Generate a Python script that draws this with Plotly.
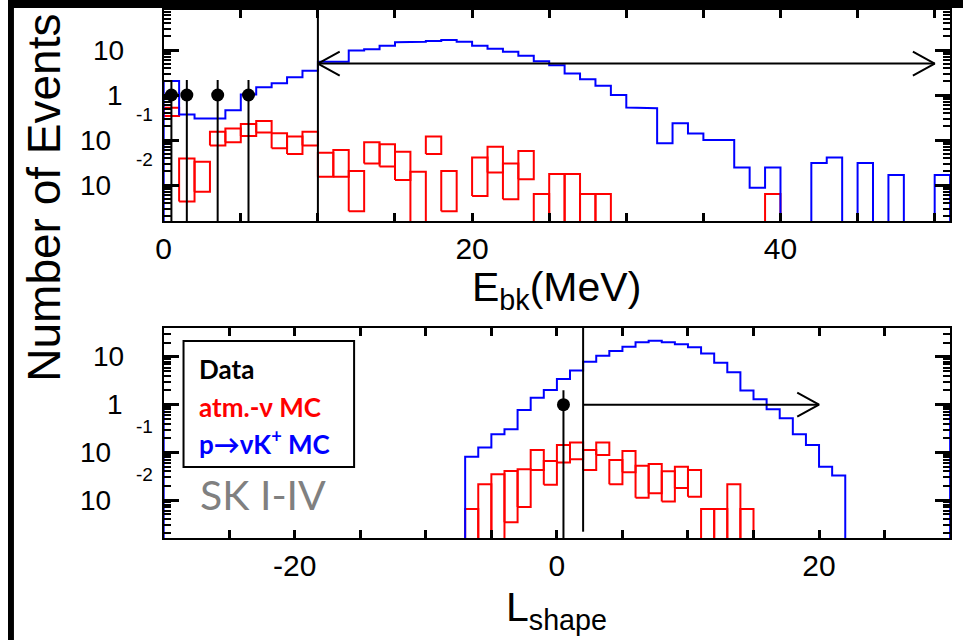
import numpy as np
import plotly.graph_objects as go

# ---------------- data: top panel (E_bk, MeV) ----------------
ebk_edges = list(range(0, 52))          # 1 MeV bins, 0..51
ebk_signal = [2.05, 0.37, 0.30, 0.30, 0.46, 1.03, 1.48, 1.82, 2.47, 3.47,
              5.5, 5.5, 9.7, 10.4, 12.5, 14.8, 15.2, 15.8, 16.7, 15.3,
              12.5, 10.7, 9.2, 7.5, 5.6, 4.6, 3.0, 2.23, 1.61, 1.0,
              0.53, 0.51, 0.085, 0.235, 0.14, 0.10, 0.10, 0.0245, 0.0087, 0.0245,
              0, 0, 0.031, 0.041, 0, 0.031, 0, 0.0166, 0, 0, 0.0166]
ebk_atm_hi = [0.52, 0.039, 0.033, 0.153, 0.18, 0.227, 0.264, 0.141, 0.119, 0.153,
              0.052, 0.060, 0.0205, 0.089, 0.080, 0.055, 0.0198, 0.119, 0.0205, None,
              0.041, 0.071, 0.030, 0.057, 0.0063, 0.0176, 0.0176, 0.0063, 0.0063, None,
              None, None, None, None, None, None, None, None, None, 0.0063,
              None, None, None, None, None, None, None, None, None, None, None]
ebk_atm_lo = [0.34, 0.0043, 0.0071, 0.075, 0.089, 0.123, 0.146, 0.0655, 0.049, 0.075,
              0.0153, 0.0153, 0.0026, 0.030, 0.0257, 0.0129, 0, 0.049, 0.0026, None,
              0.0057, 0.019, 0.0048, 0.0134, 0, 0, 0, 0, 0, None,
              None, None, None, None, None, None, None, None, None, 0,
              None, None, None, None, None, None, None, None, None, None, None]
ebk_data_x = [0.5, 1.5, 3.5, 5.5]
ebk_data_y = [1, 1, 1, 1]
ebk_data_hi = [2.15, 2.15, 2.15, 2.15]
ebk_cut = 10
ebk_arrow = (10, 50, 5.0)

# ---------------- data: bottom panel (L_shape) ----------------
ls_edges = list(range(-31, 32))         # 1-unit bins, -31..31
ls_signal = ([1.0] + [0] * 23 +
             [0.081, 0.126, 0.24, 0.305, 0.77, 1.40, 2.03, 3.46, 5.2, 7.9,
              10.6, 13.4, 16.4, 20.3, 22.0, 20.3, 18.5, 16.0, 11.9, 7.6,
              4.8, 1.97, 1.30, 0.80, 0.52, 0.24, 0.143, 0.050, 0.0325] +
             [0] * 8 + [1.0])
ls_atm_hi = ([None] * 24 +
             [0.0065, 0.0214, 0.0346, 0.0407, 0.0443, 0.112, 0.066, 0.143, 0.160, 0.112,
              0.160, 0.069, 0.107, 0.052, 0.057, 0.040, 0.050, 0.0427, 0.0065, 0.0065,
              0.0214, 0.0065] + [None] * 16)
ls_atm_lo = ([None] * 24 +
             [0, 0, 0, 0.0034, 0.0071, 0.0427, 0.0209, 0.061, 0.0716, 0.0427,
              0.088, 0.0214, 0.038, 0.0112, 0.0138, 0.0093, 0.0178, 0.0117, 0, 0,
              0, 0] + [None] * 16)
ls_data_x = [0.5]
ls_data_y = [1]
ls_data_hi = [2.0]
ls_cut = 2
ls_arrow = (2, 20, 1.0)

# tick positions
ebk_ticklabels = [0, 20, 40]
ls_ticklabels = [-20, 0, 20]
decades = [0.01, 0.1, 1, 10]
minor_log = [m * 10.0 ** k for k in range(-3, 2) for m in range(2, 10)]

# ---------------- layout geometry (pixels) ----------------
W, H = 963, 640
PX0, PX1 = 157, 950
TOP_Y0, TOP_Y1 = 10, 221
BOT_Y0, BOT_Y1 = 328, 538
TOP_YR = [-2.8, 1.889]
BOT_YR = [-2.797, 1.608]
TOP_XR = [0, 51]
BOT_XR = [-30, 30]
FLOOR = 1e-4
BLUE, RED = "#0000ff", "#ff0000"
FONT = "Liberation Sans"


def step_xy(edges, vals):
    xs, ys = [edges[0]], [FLOOR]
    for i, v in enumerate(vals):
        v = v if v > 0 else FLOOR
        xs += [edges[i], edges[i + 1]]
        ys += [v, v]
    xs.append(edges[-1]); ys.append(FLOOR)
    return xs, ys


def boxes_xy(edges, hi, lo):
    xs, ys = [], []
    for i, (h, l) in enumerate(zip(hi, lo)):
        if h is None:
            continue
        l = l if l > 0 else FLOOR
        a, b = edges[i], edges[i + 1]
        xs += [a, a, b, b, a, None]
        ys += [l, h, h, l, l, None]
    return xs, ys


def err_xy(xv, hi):
    xs, ys = [], []
    for x, h in zip(xv, hi):
        xs += [x, x, None]
        ys += [FLOOR, h, None]
    return xs, ys


def chevron(xtip, ytip, direction, xr, yr, y0, y1):
    xpp = (PX1 - PX0) / (xr[1] - xr[0])
    ypp = (y1 - y0) / (yr[1] - yr[0])
    f = 10 ** (12 / ypp)
    xb = xtip - direction * 22 / xpp
    return [xb, xtip, xb], [ytip * f, ytip, ytip / f]


fig = go.Figure()


def line_trace(x, y, color, xa, ya, width=2):
    return go.Scatter(x=x, y=y, mode="lines", line=dict(color=color, width=width),
                      xaxis=xa, yaxis=ya, hoverinfo="skip")


def add_panel(xa, ya, edges, sig, hi, lo, dx, dy, dhi, cut, arrow, xr, yr, y0, y1, both):
    bx, by = boxes_xy(edges, hi, lo)
    fig.add_trace(line_trace(bx, by, RED, xa, ya))
    sx, sy = step_xy(edges, sig)
    fig.add_trace(line_trace(sx, sy, BLUE, xa, ya))
    ex, ey = err_xy(dx, dhi)
    fig.add_trace(line_trace(ex, ey, "black", xa, ya))
    fig.add_trace(go.Scatter(x=dx, y=dy, mode="markers", marker=dict(color="black", size=13),
                             xaxis=xa, yaxis=ya, hoverinfo="skip"))
    ytop = 10 ** yr[1]
    ybot = 10 ** (yr[0] + 0.03 * (yr[1] - yr[0]))
    fig.add_trace(line_trace([cut, cut], [ytop, ybot], "black", xa, ya))
    a0, a1, ay = arrow
    fig.add_trace(line_trace([a0, a1], [ay, ay], "black", xa, ya))
    cx, cy = chevron(a1, ay, 1, xr, yr, y0, y1)
    fig.add_trace(line_trace(cx, cy, "black", xa, ya))
    if both:
        cx, cy = chevron(a0, ay, -1, xr, yr, y0, y1)
        fig.add_trace(line_trace(cx, cy, "black", xa, ya))


add_panel("x", "y", ebk_edges, ebk_signal, ebk_atm_hi, ebk_atm_lo,
          ebk_data_x, ebk_data_y, ebk_data_hi, ebk_cut, ebk_arrow,
          TOP_XR, TOP_YR, TOP_Y0, TOP_Y1, True)
add_panel("x2", "y2", ls_edges, ls_signal, ls_atm_hi, ls_atm_lo,
          ls_data_x, ls_data_y, ls_data_hi, ls_cut, ls_arrow,
          BOT_XR, BOT_YR, BOT_Y0, BOT_Y1, False)

xcommon = dict(showline=True, linecolor="black", linewidth=2, mirror="ticks",
               ticks="inside", ticklen=8, tickwidth=2.5, tickcolor="black",
               showgrid=False, zeroline=False,
               tickfont=dict(family=FONT, size=30, color="black"),
               minor=dict(ticks="inside", ticklen=8, tickwidth=2.5, tickcolor="black",
                          dtick=5, tick0=0, showgrid=False))
ycommon = dict(type="log", showline=True, linecolor="black", linewidth=2, mirror="ticks",
               ticks="inside", ticklen=15, tickwidth=2.5, tickcolor="black",
               tickvals=decades, showticklabels=False, showgrid=False, zeroline=False,
               minor=dict(ticks="inside", ticklen=7, tickwidth=2, tickcolor="black",
                          tickvals=minor_log, showgrid=False))

fig.update_layout(
    width=W, height=H, margin=dict(l=0, r=0, t=0, b=0),
    paper_bgcolor="white", plot_bgcolor="white", showlegend=False,
    xaxis=dict(domain=[PX0 / W, PX1 / W], range=TOP_XR, anchor="y",
               tickvals=ebk_ticklabels, ticktext=[str(t) for t in ebk_ticklabels], **xcommon),
    yaxis=dict(domain=[1 - TOP_Y1 / H, 1 - TOP_Y0 / H], range=TOP_YR, anchor="x", **ycommon),
    xaxis2=dict(domain=[PX0 / W, PX1 / W], range=BOT_XR, anchor="y2",
                tickvals=ls_ticklabels, ticktext=[str(t) for t in ls_ticklabels], **xcommon),
    yaxis2=dict(domain=[1 - BOT_Y1 / H, 1 - BOT_Y0 / H], range=BOT_YR, anchor="x2", **ycommon),
)

# y tick labels (10, 1, 10^-1, 10^-2 in the original's staggered style)
for ya in ["y", "y2"]:
    fig.add_annotation(text="10", xref="paper", yref=ya, x=119 / W, y=1, xanchor="right",
                       yanchor="middle", showarrow=False, font=dict(family=FONT, size=28, color="black"))
    fig.add_annotation(text="1", xref="paper", yref=ya, x=118 / W, y=0, xanchor="right",
                       yanchor="middle", showarrow=False, font=dict(family=FONT, size=28, color="black"))
    for e in [-1, -2]:
        fig.add_annotation(text="10", xref="paper", yref=ya, x=106 / W, y=e, xanchor="right",
                           yanchor="middle", showarrow=False,
                           font=dict(family=FONT, size=28, color="black"))
        fig.add_annotation(text=str(e), xref="paper", yref=ya, x=148 / W, y=e, yshift=26,
                           xanchor="right", yanchor="middle", showarrow=False,
                           font=dict(family=FONT, size=19, color="black"))

# axis titles
fig.add_annotation(text="E<sub>bk</sub>(MeV)", xref="paper", yref="paper", x=(PX0 + PX1) / 2 / W,
                   y=1 - 290 / H, xanchor="center", yanchor="middle", showarrow=False,
                   font=dict(family=FONT, size=41, color="black"))
fig.add_annotation(text="L<sub>shape</sub>", xref="paper", yref="paper", x=(PX0 + PX1) / 2 / W,
                   y=1 - 610 / H, xanchor="center", yanchor="middle", showarrow=False,
                   font=dict(family=FONT, size=41, color="black"))
fig.add_annotation(text="Number of Events", xref="paper", yref="paper", x=36 / W, y=1 - 198 / H,
                   xanchor="center", yanchor="middle", textangle=-90, showarrow=False,
                   font=dict(family=FONT, size=46, color="black"))

# legend box
fig.add_shape(type="rect", xref="paper", yref="paper", x0=177 / W, x1=349 / W,
              y0=1 - 467 / H, y1=1 - 341 / H, line=dict(color="black", width=2),
              fillcolor="white", layer="above")
leg = [("Data", "black", 369), ("atm.-ν MC", RED, 407), ("p→νK<sup>+</sup> MC", BLUE, 442)]
for txt, col, yy in leg:
    fig.add_annotation(text="<b>" + txt + "</b>", xref="paper", yref="paper", x=191 / W,
                       y=1 - yy / H, xanchor="left", yanchor="middle", showarrow=False,
                       font=dict(family="Lato", size=26, color=col))
fig.add_annotation(text="SK I-IV", xref="paper", yref="paper", x=192 / W, y=1 - 494 / H,
                   xanchor="left", yanchor="middle", showarrow=False,
                   font=dict(family="Lato", size=41, color="#808080"))

# black frame bands of the source slide
fig.add_shape(type="rect", xref="paper", yref="paper", x0=0, x1=1, y0=1 - 8 / H, y1=1,
              fillcolor="black", line=dict(width=0), layer="above")
fig.add_shape(type="rect", xref="paper", yref="paper", x0=0, x1=6 / W, y0=0, y1=1,
              fillcolor="black", line=dict(width=0), layer="above")

fig.write_html("out.html")
